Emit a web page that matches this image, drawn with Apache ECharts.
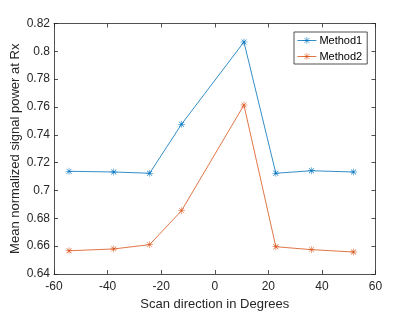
<!DOCTYPE html>
<html><head><meta charset="utf-8">
<script src="https://cdn.jsdelivr.net/npm/echarts@6/dist/echarts.min.js"></script>
<style>html,body{margin:0;padding:0;background:#fff}#c{width:415px;height:312px}</style>
</head><body><div id="c"></div>
<script>
const scanDeg = [-54.4, -37.7, -24.3, -12.4, 10.9, 22.8, 36.1, 51.8];
const method1 = [0.7138, 0.7133, 0.7124, 0.7476, 0.8067, 0.7124, 0.7142, 0.7133];
const method2 = [0.6567, 0.6580, 0.6611, 0.6855, 0.7614, 0.6596, 0.6575, 0.6558];
const seriesNames = ['Method1', 'Method2'];
const xTicks = [-60, -40, -20, 0, 20, 40, 60];
const yTicks = [0.64, 0.66, 0.68, 0.70, 0.72, 0.74, 0.76, 0.78, 0.80, 0.82];

const star = 'path://M0 9.3L20 9.3L20 10.7L0 10.7Z M9.3 0L10.7 0L10.7 20L9.3 20Z M2.4 3.4L3.4 2.4L17.6 16.6L16.6 17.6Z M16.6 2.4L17.6 3.4L3.4 17.6L2.4 16.6Z';
const font = 'Liberation Sans, Arial, Helvetica, sans-serif';
const ink = '#262626';
const colors = ['#0072BD', '#D95319'];

function mk(name, ys, i) {
  return {
    name: name, type: 'line',
    data: scanDeg.map((x, k) => [x, ys[k]]),
    symbol: star, symbolSize: 7,
    showAllSymbol: true,
    lineStyle: { width: 0.8, color: colors[i] },
    itemStyle: { color: colors[i] },
    emphasis: { disabled: true },
    animation: false
  };
}
const axisBase = {
  axisLine: { show: true, onZero: false, lineStyle: { color: ink, width: 0.8 } },
  axisTick: { show: true, inside: true, length: 4, lineStyle: { color: ink, width: 0.8 } },
  splitLine: { show: false }
};
const chart = echarts.init(document.getElementById('c'), null, { renderer: 'canvas' });
chart.setOption({
  backgroundColor: '#fff',
  animation: false,
  grid: { left: 54, right: 39.5, top: 23.5, bottom: 38, containLabel: false, outerBoundsMode: 'none' },
  legend: {
    orient: 'vertical', left: 294, top: 32,
    data: seriesNames,
    backgroundColor: '#fff', borderColor: ink, borderWidth: 0.8,
    padding: [3, 5, 2, 3], itemGap: 5,
    itemWidth: 19, itemHeight: 9,
    lineStyle: { width: 0.8 },
    itemStyle: { borderWidth: 0 },
    textStyle: { fontFamily: font, fontSize: 11, color: '#000', padding: [0, 0, 0, -2] }
  },
  xAxis: [
    Object.assign({}, axisBase, {
      type: 'value', min: xTicks[0], max: xTicks[xTicks.length - 1], interval: 20,
      position: 'bottom',
      name: 'Scan direction in Degrees', nameLocation: 'middle', nameGap: 24, nameMoveOverlap: false,
      nameTextStyle: { fontFamily: font, fontSize: 13, color: ink },
      axisLabel: { fontFamily: font, fontSize: 12, color: ink, margin: 7 }
    }),
    Object.assign({}, axisBase, {
      type: 'value', min: xTicks[0], max: xTicks[xTicks.length - 1], interval: 20,
      position: 'top', axisLabel: { show: false }
    })
  ],
  yAxis: [
    Object.assign({}, axisBase, {
      type: 'value', min: yTicks[0], max: yTicks[yTicks.length - 1], interval: 0.02,
      position: 'left',
      name: 'Mean normalized signal power at Rx', nameLocation: 'middle', nameGap: 32, nameMoveOverlap: false,
      nameTextStyle: { fontFamily: font, fontSize: 13, color: ink },
      axisLabel: { fontFamily: font, fontSize: 12, color: ink, margin: 4,
        formatter: v => String(+v.toFixed(2)) }
    }),
    Object.assign({}, axisBase, {
      type: 'value', min: yTicks[0], max: yTicks[yTicks.length - 1], interval: 0.02,
      position: 'right', axisLabel: { show: false }
    })
  ],
  series: [mk(seriesNames[0], method1, 0), mk(seriesNames[1], method2, 1)]
});
</script></body></html>
